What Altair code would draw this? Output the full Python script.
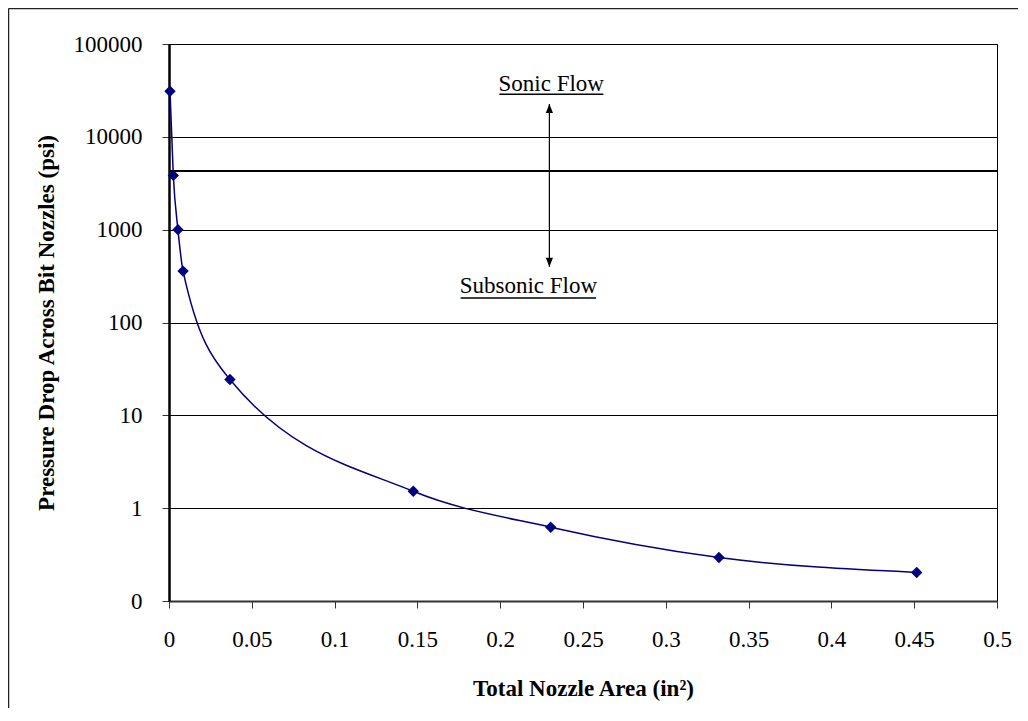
import altair as alt
import pandas as pd

# Data
area = [0.0006, 0.0026, 0.0054, 0.0085, 0.0368, 0.1475, 0.2305, 0.3321, 0.4515]
pressure_drop = [31000, 3840, 1000, 358, 24.3, 1.52, 0.624, 0.294, 0.203]

# Annotations
sonic_limit = [4280]
arrow_x = [0.2297]
arrow_top = [22560]
arrow_bottom = [398]
note_text = ["Sonic Flow", "Subsonic Flow"]
note_x = [0.2308, 0.2170]
note_y = [31160, 207.6]
underline_x1 = [0.1995, 0.1761]
underline_x2 = [0.2623, 0.2579]
underline_y = [28700, 183.2]

y_ticks = [0.1, 1, 10, 100, 1000, 10000, 100000]
x_ticks = [0, 0.05, 0.1, 0.15, 0.2, 0.25, 0.3, 0.35, 0.4, 0.45, 0.5]

FONT = "Liberation Serif"
FS = 23

df = pd.DataFrame({"area": area, "dp": pressure_drop})

xscale = alt.Scale(domain=[0, 0.5], nice=False, zero=False)
yscale = alt.Scale(type="log", domain=[0.1, 100000], nice=False)

xaxis = alt.Axis(
    values=x_ticks, format=".2~f", grid=False,
    title="Total Nozzle Area (in²)",
    titleFont=FONT, titleFontSize=FS, titleFontWeight="bold", titleColor="black",
    titleBaseline="alphabetic", titleY=94,
    labelFont=FONT, labelFontSize=FS, labelColor="black",
    labelBaseline="alphabetic", labelPadding=38, labelFlush=False,
    tickSize=7, tickColor="#333333", tickWidth=1,
    domainColor="#333333", domainWidth=2,
)
yaxis = alt.Axis(
    values=y_ticks,
    labelExpr="datum.value < 1 ? '0' : format(datum.value, 'd')",
    grid=True, gridColor="black", gridWidth=1, gridOpacity=1,
    title="Pressure Drop Across Bit Nozzles (psi)",
    titleFont=FONT, titleFontSize=FS, titleFontWeight="bold", titleColor="black",
    titleBaseline="alphabetic", titleX=-116, titleAngle=-90,
    labelFont=FONT, labelFontSize=FS, labelColor="black",
    labelPadding=20, labelFlush=False,
    tickSize=7, tickColor="#333333", tickWidth=1,
    domainColor="black", domainWidth=2.5,
)

base = alt.Chart(df)

curve = base.mark_line(color="#000080", strokeWidth=1.5, interpolate="monotone").encode(
    x=alt.X("area:Q", scale=xscale, axis=xaxis),
    y=alt.Y("dp:Q", scale=yscale, axis=yaxis),
)
points = base.mark_point(shape="diamond", filled=True, size=130, color="#000080", opacity=1).encode(
    x="area:Q", y="dp:Q"
)

limit = alt.Chart(pd.DataFrame({"y": sonic_limit})).mark_rule(color="black", strokeWidth=2).encode(
    y=alt.Y("y:Q", scale=yscale)
)

arrow_df = pd.DataFrame({"x": arrow_x, "top": arrow_top, "bottom": arrow_bottom})
shaft = alt.Chart(arrow_df).mark_rule(color="black", strokeWidth=1.2).encode(
    x="x:Q", y=alt.Y("top:Q", scale=yscale), y2="bottom:Q"
)
head_up = alt.Chart(arrow_df).mark_point(
    shape="M0,-1L-0.8,1L0.8,1Z", filled=True, size=81, color="black", opacity=1, yOffset=4.5
).encode(x="x:Q", y="top:Q")
head_down = alt.Chart(arrow_df).mark_point(
    shape="M0,1L-0.8,-1L0.8,-1Z", filled=True, size=81, color="black", opacity=1, yOffset=-4.5
).encode(x="x:Q", y="bottom:Q")

notes_df = pd.DataFrame({"t": note_text, "x": note_x, "y": note_y,
                         "x1": underline_x1, "x2": underline_x2, "uy": underline_y})
notes = alt.Chart(notes_df).mark_text(
    font=FONT, fontSize=FS, color="black", align="center", baseline="alphabetic"
).encode(x="x:Q", y="y:Q", text="t:N")
underlines = alt.Chart(notes_df).mark_rule(color="black", strokeWidth=1.5).encode(
    x="x1:Q", x2="x2:Q", y="uy:Q"
)

one = alt.Data(values=[{"k": 1}])
border_left = alt.Chart(one).mark_rule(color="#222222", strokeWidth=1.5).encode(
    x=alt.value(-160.5), y=alt.value(-35.5), y2=alt.value(720)
)
border_top = alt.Chart(one).mark_rule(color="#222222", strokeWidth=1.5).encode(
    x=alt.value(-160.5), x2=alt.value(900), y=alt.value(-35.5)
)

chart = alt.layer(
    curve, points, limit, shaft, head_up, head_down, underlines, notes,
    border_left, border_top
).properties(
    width=828, height=557,
    autosize=alt.AutoSizeParams(type="none"),
    padding={"left": 161, "top": 36, "right": 21, "bottom": 107},
    background="white",
).configure_view(stroke="black", strokeWidth=1)

chart.save("out.html", embed_options={"renderer": "svg", "actions": False})
